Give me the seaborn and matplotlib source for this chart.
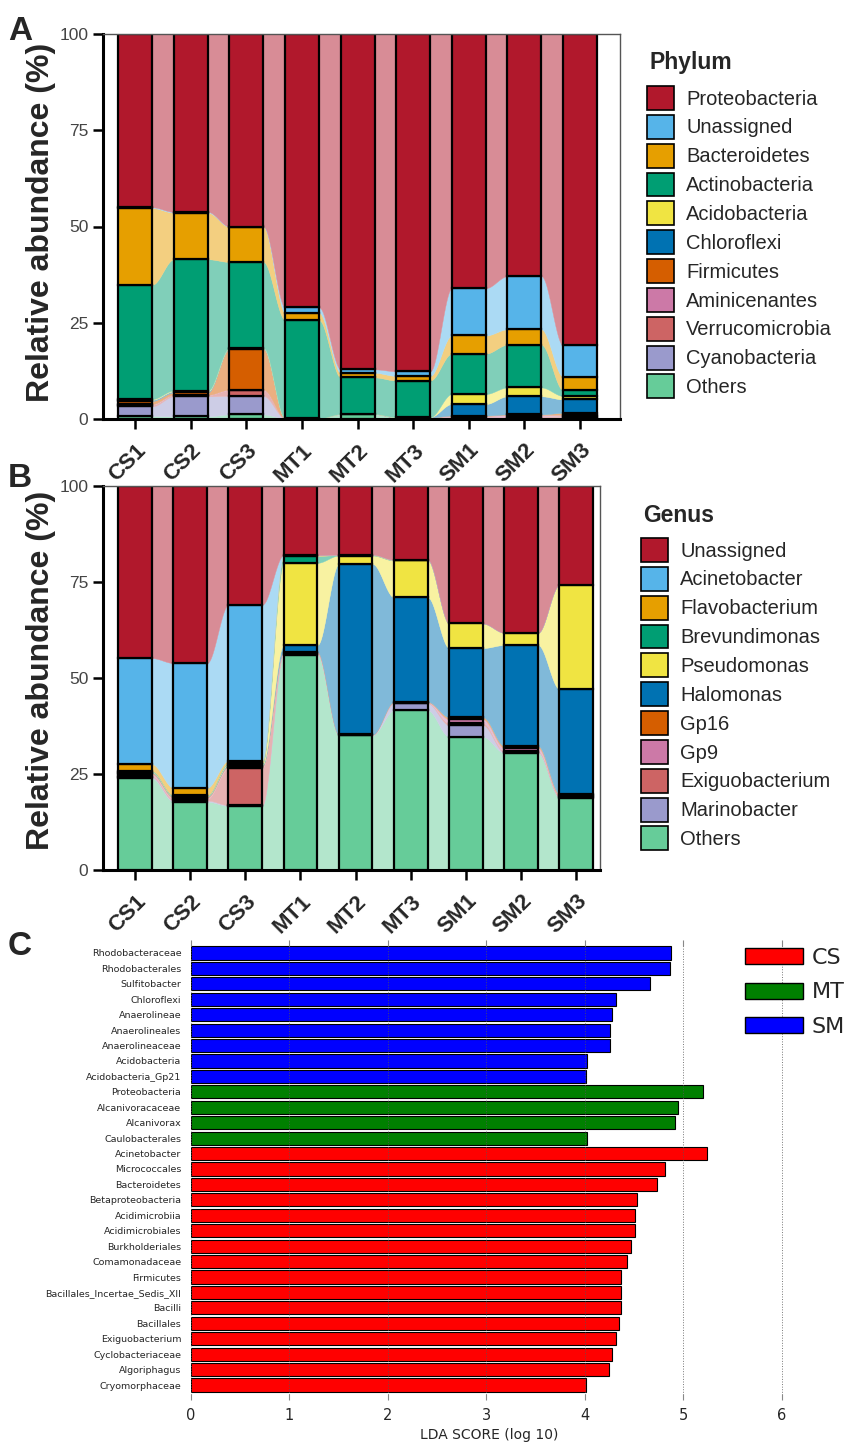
import numpy as np
import pandas as pd
import matplotlib
matplotlib.use("Agg")
import matplotlib.pyplot as plt
import matplotlib.colors as mcolors
import matplotlib.transforms as mtransforms
from matplotlib.patches import Patch
import seaborn as sns

# ---------------- data ----------------
samples = ["CS1", "CS2", "CS3", "MT1", "MT2", "MT3", "SM1", "SM2", "SM3"]

# Panel A (phylum), listed in legend order (top of stack first)
phylum_names = ["Proteobacteria", "Unassigned", "Bacteroidetes", "Actinobacteria",
                "Acidobacteria", "Chloroflexi", "Firmicutes", "Aminicenantes",
                "Verrucomicrobia", "Cyanobacteria", "Others"]
ph_proteobacteria = [45.0, 46.2, 50.0, 71.0, 87.1, 87.6, 66.0, 62.9, 80.9]
ph_unassigned     = [0.2, 0.2, 0.1, 1.4, 0.9, 1.2, 12.3, 13.8, 8.1]
ph_bacteroidetes  = [19.9, 12.1, 9.1, 1.9, 1.2, 1.2, 4.7, 4.0, 3.5]
ph_actinobacteria = [29.7, 34.1, 22.3, 25.5, 9.5, 9.5, 10.5, 11.1, 1.5]
ph_acidobacteria  = [0.2, 0.2, 0.1, 0.0, 0.0, 0.0, 2.6, 2.3, 0.9]
ph_chloroflexi    = [0.3, 0.3, 0.2, 0.0, 0.0, 0.1, 3.0, 4.7, 3.5]
ph_firmicutes     = [0.8, 0.6, 10.6, 0.0, 0.0, 0.0, 0.1, 0.1, 0.5]
ph_aminicenantes  = [0.2, 0.1, 0.1, 0.0, 0.0, 0.0, 0.2, 0.5, 0.2]
ph_verrucomicrobia = [0.4, 0.3, 1.5, 0.0, 0.0, 0.0, 0.1, 0.2, 0.4]
ph_cyanobacteria  = [2.5, 5.2, 4.8, 0.0, 0.1, 0.0, 0.1, 0.1, 0.2]
ph_others         = [0.8, 0.7, 1.2, 0.2, 1.2, 0.4, 0.4, 0.3, 0.3]

# Panel B (genus), legend order
genus_names = ["Unassigned", "Acinetobacter", "Flavobacterium", "Brevundimonas",
               "Pseudomonas", "Halomonas", "Gp16", "Gp9", "Exiguobacterium",
               "Marinobacter", "Others"]
ge_unassigned      = [44.8, 46.1, 30.9, 18.0, 17.9, 19.2, 35.8, 38.2, 25.7]
ge_acinetobacter   = [27.6, 32.5, 40.6, 0.0, 0.0, 0.0, 0.0, 0.0, 0.0]
ge_flavobacterium  = [1.8, 1.9, 0.6, 0.2, 0.1, 0.1, 0.0, 0.0, 0.0]
ge_brevundimonas   = [0.2, 0.1, 0.3, 1.8, 0.1, 0.1, 0.0, 0.0, 0.0]
ge_pseudomonas     = [0.1, 0.1, 0.2, 21.4, 2.2, 9.6, 6.4, 3.2, 27.2]
ge_halomonas       = [0.2, 0.2, 0.3, 1.8, 44.4, 27.2, 18.0, 26.3, 27.2]
ge_gp16            = [0.3, 0.3, 0.3, 0.1, 0.0, 0.1, 0.5, 0.5, 0.4]
ge_gp9             = [0.5, 0.3, 0.3, 0.2, 0.0, 0.1, 1.0, 0.8, 0.2]
ge_exiguobacterium = [0.3, 0.4, 9.6, 0.2, 0.1, 0.2, 0.6, 0.3, 0.3]
ge_marinobacter    = [0.3, 0.3, 0.2, 0.2, 0.1, 1.8, 3.0, 0.2, 0.2]
ge_others          = [23.9, 17.8, 16.7, 56.1, 35.1, 41.6, 34.7, 30.5, 18.8]

# Panel C (LEfSe)
lda_names = ["Rhodobacteraceae", "Rhodobacterales", "Sulfitobacter", "Chloroflexi",
             "Anaerolineae", "Anaerolineales", "Anaerolineaceae", "Acidobacteria",
             "Acidobacteria_Gp21", "Proteobacteria", "Alcanivoracaceae", "Alcanivorax",
             "Caulobacterales", "Acinetobacter", "Micrococcales", "Bacteroidetes",
             "Betaproteobacteria", "Acidimicrobiia", "Acidimicrobiales", "Burkholderiales",
             "Comamonadaceae", "Firmicutes", "Bacillales_Incertae_Sedis_XII", "Bacilli",
             "Bacillales", "Exiguobacterium", "Cyclobacteriaceae", "Algoriphagus",
             "Cryomorphaceae"]
lda_scores = [4.87, 4.86, 4.66, 4.31, 4.27, 4.25, 4.25, 4.02, 4.01,
              5.20, 4.94, 4.91, 4.02,
              5.24, 4.81, 4.73, 4.53, 4.51, 4.51, 4.47, 4.43, 4.37, 4.37,
              4.37, 4.35, 4.31, 4.27, 4.24, 4.01]
lda_groups = ["SM"] * 9 + ["MT"] * 4 + ["CS"] * 16
group_names = ["CS", "MT", "SM"]

# ---------------- style ----------------
palette11 = ["#B1182C", "#56B4E9", "#E69F00", "#009E73", "#F0E442", "#0072B2",
             "#D55E00", "#CC79A7", "#CD6464", "#9A9ACC", "#66CC99"]
group_colors = {"CS": "#FF0000", "MT": "#008000", "SM": "#0000FF"}

sns.set_style("white")
plt.rcParams["font.family"] = ["Liberation Sans", "DejaVu Sans"]

W, H = 854, 1442
fig = plt.figure(figsize=(W / 100, H / 100), dpi=100)


def fpos(left, right, top, bottom):
    return [left / W, 1 - bottom / H, (right - left) / W, (bottom - top) / H]


def lighten(c, f=0.5):
    r = np.array(mcolors.to_rgb(c))
    return tuple(r * (1 - f) + f)


def stacked_panel(ax, series, xlim, label_xy):
    width = 0.61
    x = np.arange(len(samples))
    data = np.array(series)[::-1]          # bottom of stack first
    cols = palette11[::-1]
    bottoms = np.vstack([np.zeros(len(samples)), np.cumsum(data, axis=0)[:-1]])
    tops = bottoms + data
    t = np.linspace(0, 1, 60)
    s = 3 * t ** 2 - 2 * t ** 3
    # ribbons between bars
    for k in range(data.shape[0]):
        lc = lighten(cols[k])
        for i in range(len(samples) - 1):
            x0, x1 = x[i] + width / 2, x[i + 1] - width / 2
            xs = x0 + (x1 - x0) * t
            lo = bottoms[k, i] + (bottoms[k, i + 1] - bottoms[k, i]) * s
            hi = tops[k, i] + (tops[k, i + 1] - tops[k, i]) * s
            ax.fill_between(xs, lo, hi, facecolor=lc, edgecolor=lc, lw=0.3, zorder=1)
    # bars
    for k in range(data.shape[0]):
        h = data[k]
        m = h > 0
        ax.bar(x[m], h[m], bottom=bottoms[k][m], width=width, color=cols[k],
               edgecolor="black", linewidth=1.6, zorder=3)
    ax.set_xlim(*xlim)
    ax.set_ylim(0, 100)
    ax.set_yticks([0, 25, 50, 75, 100])
    ax.set_yticklabels(["0", "25", "50", "75", "100"], fontsize=12.5, color="#444444")
    ax.set_xticks(x)
    ax.set_xticklabels(samples, rotation=45, ha="right", rotation_mode="anchor",
                       fontsize=16, fontweight="bold")
    shift = mtransforms.ScaledTranslation(5 / 100, 0, fig.dpi_scale_trans)
    for lab in ax.get_xticklabels():
        lab.set_transform(lab.get_transform() + shift)
    ax.tick_params(axis="both", direction="out", length=7, width=1.8, color="black",
                   left=True, bottom=True)
    ax.tick_params(axis="x", pad=8)
    ax.set_ylabel("Relative abundance (%)", fontsize=23, fontweight="bold")
    ax.yaxis.set_label_coords(*label_xy)
    for sp in ["left", "bottom"]:
        ax.spines[sp].set_color("black")
        ax.spines[sp].set_linewidth(2.2)
    for sp in ["top", "right"]:
        ax.spines[sp].set_color("#555555")
        ax.spines[sp].set_linewidth(1.0)
    ax.spines["top"].set_zorder(5)
    return [Patch(facecolor=c, edgecolor="black", linewidth=1.2) for c in palette11]


def side_legend(handles, labels, title, tx, ty, lx, ly):
    fig.text(tx / W, 1 - ty / H, title, fontsize=16.5, fontweight="bold",
             ha="left", va="center")
    fig.legend(handles, labels, loc="upper left", bbox_to_anchor=(lx / W, 1 - ly / H),
               frameon=False, fontsize=14.5, handlelength=1.35, handleheight=1.45,
               labelspacing=0.245, handletextpad=0.6, borderpad=0, borderaxespad=0)


# Panel A
axA = fig.add_axes(fpos(103, 620, 34, 419))
hA = stacked_panel(axA,
                   [ph_proteobacteria, ph_unassigned, ph_bacteroidetes, ph_actinobacteria,
                    ph_acidobacteria, ph_chloroflexi, ph_firmicutes, ph_aminicenantes,
                    ph_verrucomicrobia, ph_cyanobacteria, ph_others],
                   (-0.58, 8.72), ((56 - 103) / 517, (419 - 222) / 385))
side_legend(hA, phylum_names, "Phylum", 650, 62, 647, 86)

# Panel B
axB = fig.add_axes(fpos(103, 600, 486, 870))
hB = stacked_panel(axB,
                   [ge_unassigned, ge_acinetobacter, ge_flavobacterium, ge_brevundimonas,
                    ge_pseudomonas, ge_halomonas, ge_gp16, ge_gp9, ge_exiguobacterium,
                    ge_marinobacter, ge_others],
                   (-0.58, 8.43), ((56 - 103) / 497, (870 - 670) / 384))
side_legend(hB, genus_names, "Genus", 643, 515, 641, 538)

# Panel C
xmaxC = 6.05
axC = fig.add_axes([191 / W, 1 - 1400 / H, xmaxC * 98.5 / W, 460 / H])
df = pd.DataFrame({"name": lda_names, "score": lda_scores, "group": lda_groups})
sns.barplot(data=df, x="score", y="name", hue="group", order=lda_names,
            hue_order=group_names, palette=group_colors, dodge=False, orient="h",
            width=0.85, saturation=1, edgecolor="black", linewidth=0.8, legend=False,
            ax=axC)
axC.set_xlim(0, xmaxC)
axC.set_ylim(28.97, -0.84)
axC.set_xticks(range(7))
axC.set_xticklabels([str(i) for i in range(7)], fontsize=10.5, family="DejaVu Sans")
for lab in axC.get_yticklabels():
    lab.set_fontsize(6.8)
    lab.set_family("DejaVu Sans")
axC.tick_params(axis="y", length=0, pad=7)
axC.tick_params(axis="x", direction="in", length=4, color="#888888", top=True,
                bottom=True, pad=6)
axC.set_xlabel("LDA SCORE (log 10)", fontsize=10, family="DejaVu Sans", labelpad=3)
axC.set_ylabel("")
axC.grid(axis="x", linestyle=":", color="#555555", linewidth=0.7, alpha=0.8)
axC.grid(axis="y", visible=False)
axC.set_axisbelow(False)
for sp in axC.spines.values():
    sp.set_visible(False)
hC = [Patch(facecolor=group_colors[g], edgecolor="black", linewidth=1.0) for g in group_names]
fig.legend(hC, group_names, loc="upper left", bbox_to_anchor=(745 / W, 1 - 948 / H),
           frameon=False, prop={"family": "DejaVu Sans", "size": 16},
           handlelength=2.6, handleheight=0.75, labelspacing=0.65, handletextpad=0.4,
           borderpad=0, borderaxespad=0)

# Panel letters
for letter, y in [("A", 40), ("B", 487), ("C", 955)]:
    fig.text(8 / W, 1 - y / H, letter, fontsize=24, fontweight="bold", va="baseline",
             ha="left")

fig.savefig("out.png", dpi=100)
